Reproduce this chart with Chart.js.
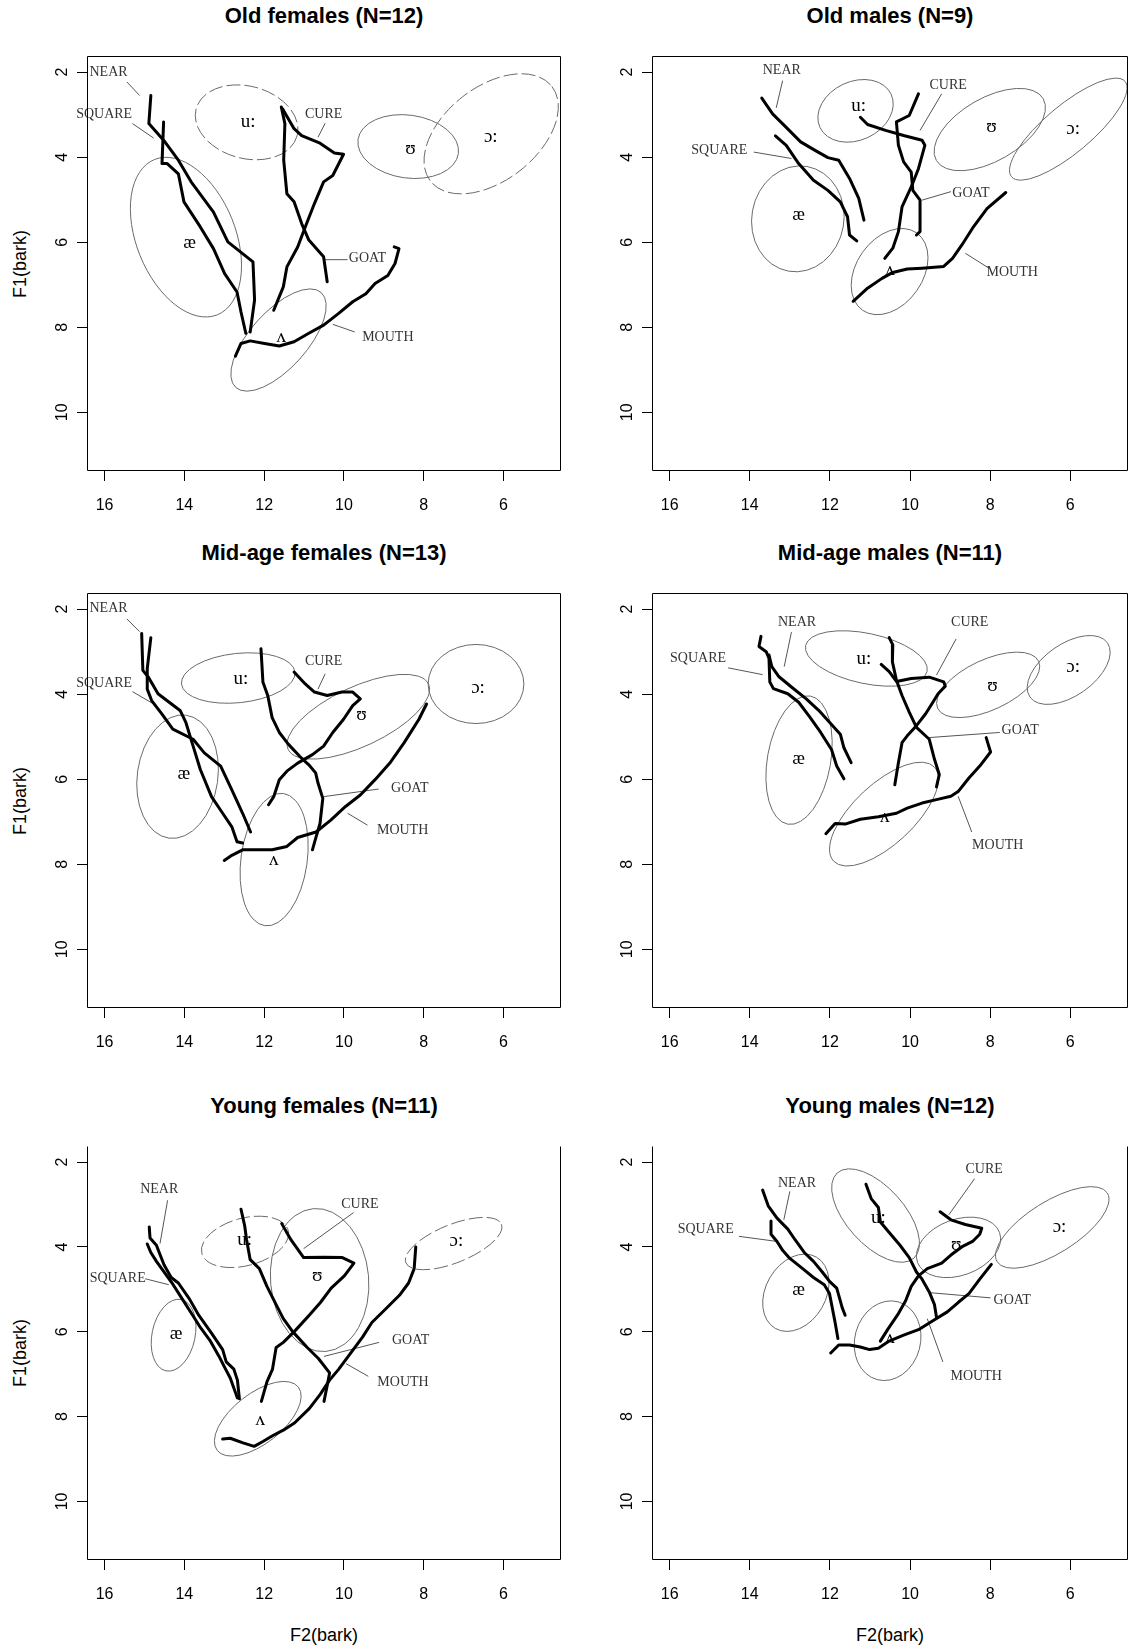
<!DOCTYPE html>
<html>
<head>
<meta charset="utf-8">
<script src="https://cdn.jsdelivr.net/npm/chart.js@4.4.1/dist/chart.umd.min.js"></script>
<style>
  html, body { margin: 0; padding: 0; background: #fff; overflow: hidden; }
  body { width: 1128px; height: 1647px; position: relative; }
  canvas { position: absolute; }
  .title { position: absolute; font: bold 22px "Liberation Sans", Arial, sans-serif; transform: translate(-50%, -50%); white-space: nowrap; }
  .axlab { position: absolute; font: 18px "Liberation Sans", Arial, sans-serif; transform: translate(-50%, -50%); white-space: nowrap; }
  .rot { transform: translate(-50%, -50%) rotate(-90deg); }
</style>
</head>
<body>
<script>
// axes
const xTicks = [16, 14, 12, 10, 8, 6];
const yTicks = [2, 4, 6, 8, 10];
const xRange = [4.56, 16.44];
const yRange = [1.62, 11.38];
const titles = ['Old females (N=12)', 'Old males (N=9)', 'Mid-age females (N=13)',
                'Mid-age males (N=11)', 'Young females (N=11)', 'Young males (N=12)'];

// trajectories are [F2, F1] pairs in bark
// ellipses: [vowel, F2 centre, F1 centre, half-axis along F2, half-axis along F1, tilt deg]
// vowel labels: [text, F2, F1]; lexical set labels: [text, F2, F1, leader from F2, F1, to F2, F1]

// Old females
const ofNear = [[14.84,2.55],[14.89,3.21],[14.52,3.60],[14.15,4.07],[13.83,4.58],[13.27,5.29],[12.91,5.99],[12.28,6.46],[12.24,7.36],[12.35,8.11]];
const ofSquare = [[14.52,3.17],[14.56,4.15],[14.43,4.15],[14.15,4.39],[14.01,5.05],[13.60,5.64],[13.27,6.15],[12.99,6.74],[12.68,7.17],[12.58,7.64],[12.46,8.14]];
const ofCure = [[11.54,2.86],[11.25,3.33],[11.06,3.49],[10.60,3.67],[10.24,3.90],[10.01,3.93],[10.28,4.43],[10.51,4.58],[10.74,5.09],[10.97,5.64],[11.16,6.11],[11.43,6.58],[11.52,7.05],[11.76,7.60]];
const ofGoat = [[11.57,2.82],[11.48,3.21],[11.51,4.07],[11.43,4.86],[11.25,5.05],[11.06,5.56],[10.88,5.95],[10.51,6.34],[10.42,6.93]];
const ofMouth = [[12.72,8.68],[12.58,8.38],[12.35,8.32],[11.99,8.38],[11.62,8.44],[11.25,8.34],[10.88,8.14],[10.51,7.95],[10.14,7.68],[9.78,7.40],[9.45,7.21],[9.22,6.97],[8.90,6.78],[8.72,6.50],[8.62,6.15],[8.74,6.11]];
const ofEllipses = [['æ',13.96,5.88,1.24,1.97,-22],['u:',12.44,3.18,1.31,0.85,15],['ʊ',8.39,3.75,1.27,0.74,8],['ɔ:',6.31,3.45,1.93,1.10,-38],['ʌ',11.64,8.30,1.60,0.67,-48]];
const ofVowels = [['æ',13.87,6.03],['u:',12.40,3.17],['ʊ',8.33,3.80],['ɔ:',6.32,3.53],['ʌ',11.57,8.22]];
const ofSets = [['NEAR',15.90,2.00,15.44,2.23,15.12,2.55],['SQUARE',16.01,3.00,15.30,3.21,14.77,3.55],['CURE',10.51,3.00,10.47,3.20,10.65,3.53],['GOAT',9.41,6.38,10.47,6.41,9.91,6.41],['MOUTH',8.90,8.24,10.28,7.93,9.73,8.11]];

// Old males
const omNear = [[13.70,2.61],[13.43,2.98],[13.14,3.25],[12.73,3.64],[12.37,3.84],[12.05,4.01],[11.78,4.07],[11.51,4.50],[11.28,4.97],[11.15,5.48]];
const omSquare = [[13.36,3.50],[13.09,3.72],[12.78,4.15],[12.41,4.54],[12.05,4.78],[11.74,5.05],[11.56,5.40],[11.51,5.83],[11.33,5.97]];
const omCure = [[11.24,3.06],[11.06,3.23],[10.61,3.37],[10.16,3.49],[9.70,3.60],[9.63,3.72],[9.79,4.27],[9.97,4.70],[10.20,5.17],[10.29,5.75],[10.43,6.14],[10.63,6.38]];
const omGoat = [[9.79,2.51],[10.02,3.02],[10.34,3.17],[10.29,3.72],[10.16,4.11],[9.97,4.35],[9.93,4.78],[9.75,5.01],[9.75,5.75],[9.84,5.83]];
const omMouth = [[11.42,7.39],[11.06,7.08],[10.70,6.85],[10.43,6.71],[10.07,6.63],[9.70,6.61],[9.16,6.57],[8.94,6.38],[8.71,6.07],[8.44,5.67],[8.08,5.21],[7.61,4.83]];
const omEllipses = [['æ',12.80,5.45,1.15,1.25,10],['u:',11.36,2.91,0.98,0.69,-25],['ʊ',8.01,3.35,1.54,0.74,-30],['ɔ:',6.05,3.34,1.85,0.56,-40],['ʌ',10.51,6.69,0.83,1.11,35]];
const omVowels = [['æ',12.78,5.35],['u:',11.28,2.80],['ʊ',7.97,3.29],['ɔ:',5.93,3.33],['ʌ',10.50,6.66]];
const omSets = [['NEAR',13.20,1.96,13.18,2.20,13.34,2.84],['SQUARE',14.76,3.84,13.90,3.88,12.96,4.03],['CURE',9.05,2.31,9.21,2.51,9.75,3.37],['GOAT',8.48,4.84,9.70,5.01,8.98,4.81],['MOUTH',7.45,6.71,8.62,6.26,8.03,6.61]];

// Mid-age females
const mfNear = [[15.07,2.57],[15.04,3.44],[14.90,3.60],[14.66,3.99],[14.38,4.19],[14.10,4.39],[13.96,4.67],[13.78,5.22],[13.60,5.77],[13.32,6.41],[13.04,6.80],[12.81,7.12],[12.68,7.47],[12.54,7.50]];
const mfSquare = [[14.84,2.67],[14.93,3.40],[14.93,3.88],[14.82,4.15],[14.56,4.47],[14.29,4.82],[13.78,5.06],[13.50,5.38],[13.09,5.69],[12.81,6.25],[12.54,6.80],[12.34,7.24]];
const mfCure = [[11.25,3.48],[10.97,3.76],[10.74,3.95],[10.42,4.03],[10.05,3.95],[9.78,3.95],[9.59,4.11],[9.78,4.27],[10.01,4.59],[10.28,4.90],[10.51,5.22],[10.79,5.42],[11.16,5.62],[11.43,5.81],[11.62,6.01],[11.76,6.41],[11.89,6.60]];
const mfGoat = [[12.08,2.93],[12.03,3.72],[11.91,4.03],[11.80,4.55],[11.62,4.90],[11.39,5.18],[11.11,5.46],[10.88,5.66],[10.71,5.85],[10.65,6.09],[10.53,6.45],[10.60,7.04],[10.70,7.36],[10.79,7.66]];
const mfMouth = [[13.00,7.91],[12.81,7.79],[12.54,7.66],[12.17,7.66],[11.80,7.66],[11.43,7.58],[11.16,7.37],[10.70,7.24],[10.33,6.96],[9.96,6.64],[9.59,6.37],[9.22,6.01],[8.85,5.62],[8.49,5.14],[8.12,4.59],[7.93,4.23]];
const mfEllipses = [['æ',14.17,5.94,1.01,1.46,8],['u:',12.65,3.62,1.43,0.58,-6],['ʊ',9.64,4.53,1.94,0.70,-25],['ɔ:',6.69,3.76,1.20,0.93,0],['ʌ',11.75,7.89,0.83,1.57,8]];
const mfVowels = [['æ',14.01,5.87],['u:',12.58,3.65],['ʊ',9.56,4.49],['ɔ:',6.64,3.86],['ʌ',11.76,7.89]];
const mfSets = [['NEAR',15.90,1.99,15.44,2.23,15.12,2.53],['SQUARE',16.01,3.74,15.30,3.94,14.77,4.23],['CURE',10.51,3.23,10.47,3.52,10.65,3.88],['GOAT',8.35,6.21,10.51,6.41,9.13,6.23],['MOUTH',8.53,7.20,9.91,6.80,9.41,7.08]];

// Mid-age males
const mmNear = [[13.52,3.08],[13.45,3.35],[13.27,3.59],[12.96,3.83],[12.59,4.11],[12.28,4.38],[12.01,4.66],[11.74,4.94],[11.65,5.26],[11.47,5.61]];
const mmSquare = [[13.72,2.64],[13.77,2.88],[13.59,3.00],[13.52,3.16],[13.50,3.71],[13.41,3.87],[13.05,3.99],[12.78,4.19],[12.50,4.54],[12.23,4.90],[11.96,5.30],[11.83,5.69],[11.65,5.99]];
const mmCure = [[10.72,3.30],[10.52,3.47],[10.34,3.70],[9.97,3.63],[9.52,3.60],[9.16,3.71],[9.12,3.81],[9.30,3.99],[9.43,4.19],[9.61,4.46],[9.84,4.74],[10.07,4.98],[10.20,5.14],[10.29,5.61],[10.38,6.13]];
const mmGoat = [[10.52,2.67],[10.43,2.84],[10.44,3.24],[10.34,3.67],[10.20,4.03],[10.02,4.42],[9.84,4.78],[9.52,5.06],[9.39,5.53],[9.27,5.89],[9.34,6.18]];
const mmMouth = [[12.10,7.28],[11.87,7.04],[11.60,7.05],[11.24,6.94],[10.79,6.88],[10.34,6.80],[10.07,6.68],[9.70,6.56],[9.34,6.48],[8.98,6.40],[8.80,6.29],[8.53,5.97],[8.26,5.69],[7.99,5.36],[8.10,5.02]];
const mmEllipses = [['æ',12.77,5.55,0.79,1.53,10],['u:',11.09,3.16,1.55,0.59,12],['ʊ',8.05,3.78,1.39,0.59,-25],['ɔ:',6.04,3.43,1.18,0.61,-35],['ʌ',10.65,6.82,1.72,0.71,-43]];
const mmVowels = [['æ',12.78,5.53],['u:',11.15,3.17],['ʊ',7.94,3.81],['ɔ:',5.93,3.35],['ʌ',10.63,6.90]];
const mmSets = [['NEAR',12.82,2.32,12.96,2.54,13.14,3.35],['SQUARE',15.29,3.16,14.54,3.38,13.68,3.54],['CURE',8.51,2.32,8.85,2.70,9.34,3.55],['GOAT',7.25,4.86,9.52,5.02,7.76,4.90],['MOUTH',7.81,7.55,8.80,6.40,8.46,7.24]];

// Young females
const yfNear = [[14.88,3.53],[14.86,3.79],[14.70,3.96],[14.63,4.13],[14.51,4.42],[14.33,4.72],[14.15,4.85],[13.87,5.23],[13.64,5.61],[13.32,6.03],[13.04,6.42],[12.95,6.71],[12.76,6.88],[12.67,7.14],[12.62,7.58]];
const yfSquare = [[14.93,3.93],[14.84,4.13],[14.70,4.34],[14.51,4.59],[14.28,4.89],[14.05,5.23],[13.82,5.57],[13.59,5.91],[13.36,6.20],[13.13,6.58],[12.99,6.84],[12.85,7.09],[12.67,7.56]];
const yfCure = [[11.56,3.45],[11.33,3.83],[11.01,4.25],[10.50,4.24],[10.04,4.25],[9.75,4.38],[9.99,4.68],[10.32,4.97],[10.59,5.31],[10.87,5.61],[11.24,5.99],[11.52,6.25],[11.70,6.37],[11.79,6.88],[11.93,7.18],[12.07,7.64]];
const yfGoat = [[12.58,3.11],[12.49,3.49],[12.44,3.83],[12.35,4.30],[12.12,4.51],[11.93,4.93],[11.70,5.36],[11.52,5.69],[11.29,5.99],[10.92,6.37],[10.64,6.63],[10.36,6.97],[10.41,7.22],[10.50,7.64]];
const yfMouth = [[13.04,8.53],[12.85,8.51],[12.53,8.62],[12.25,8.70],[12.02,8.58],[11.79,8.45],[11.52,8.32],[11.24,8.15],[10.87,7.81],[10.59,7.47],[10.36,7.14],[10.13,6.88],[9.86,6.54],[9.53,6.12],[9.30,5.78],[8.93,5.44],[8.61,5.14],[8.38,4.85],[8.24,4.51],[8.20,4.00]];
const yfEllipses = [['æ',14.27,6.08,0.54,0.86,12],['u:',12.48,3.88,1.12,0.56,-15],['ʊ',10.61,4.78,1.23,1.69,-5],['ɔ:',7.25,3.92,1.29,0.45,-22],['ʌ',12.16,8.05,1.29,0.59,-38]];
const yfVowels = [['æ',14.21,6.05],['u:',12.49,3.83],['ʊ',10.67,4.68],['ɔ:',7.18,3.87],['ʌ',12.10,8.07]];
const yfSets = [['NEAR',14.63,2.64,14.42,2.90,14.61,3.92],['SQUARE',15.67,4.75,14.98,4.75,14.39,4.89],['CURE',9.60,3.00,9.76,3.19,11.01,4.04],['GOAT',8.33,6.19,9.12,6.25,10.50,6.58],['MOUTH',8.52,7.20,9.39,7.05,9.95,6.75]];

// Young males
const ymNear = [[13.68,2.66],[13.54,3.03],[13.32,3.32],[13.05,3.58],[12.87,3.83],[12.64,4.13],[12.41,4.34],[12.19,4.59],[12.01,4.81],[11.83,4.97],[11.74,5.27],[11.69,5.44],[11.62,5.61]];
const ymSquare = [[13.47,3.39],[13.47,3.70],[13.32,3.87],[13.18,4.08],[13.00,4.27],[12.68,4.51],[12.41,4.72],[12.14,4.89],[12.01,5.10],[11.94,5.44],[11.87,5.78],[11.80,6.16]];
const ymCure = [[9.25,3.17],[8.98,3.36],[8.62,3.47],[8.21,3.56],[8.26,3.70],[8.44,3.87],[8.71,4.00],[8.98,4.19],[9.21,4.38],[9.57,4.51],[9.79,4.68],[9.97,4.93],[10.11,5.27],[10.29,5.57],[10.56,5.95],[10.74,6.22]];
const ymGoat = [[11.10,2.52],[10.97,2.86],[10.79,3.07],[10.74,3.41],[10.52,3.66],[10.25,3.96],[10.02,4.25],[9.84,4.59],[9.70,4.76],[9.52,5.06],[9.39,5.36],[9.34,5.65]];
const ymMouth = [[11.98,6.50],[11.78,6.31],[11.51,6.31],[11.24,6.36],[11.01,6.42],[10.79,6.39],[10.52,6.22],[10.16,6.08],[9.79,5.95],[9.43,5.74],[9.07,5.53],[8.80,5.31],[8.53,5.10],[8.26,4.76],[7.97,4.41]];
const ymEllipses = [['æ',12.85,5.08,0.75,0.97,30],['u:',10.86,3.26,1.43,0.68,48],['ʊ',8.79,4.01,1.09,0.66,-20],['ɔ:',6.45,3.54,1.62,0.61,-32],['ʌ',10.56,6.21,0.82,0.95,15]];
const ymVowels = [['æ',12.78,5.02],['u:',10.79,3.32],['ʊ',8.85,3.96],['ɔ:',6.27,3.53],['ʌ',10.50,6.14]];
const ymSets = [['NEAR',12.82,2.50,13.00,2.69,13.15,3.36],['SQUARE',15.10,3.58,14.27,3.75,13.32,3.87],['CURE',8.15,2.16,8.39,2.39,9.03,3.24],['GOAT',7.45,5.25,9.48,5.08,7.99,5.20],['MOUTH',8.35,7.05,9.57,5.69,9.18,6.71]];

const panels = [
  { lines: [ofNear, ofSquare, ofCure, ofGoat, ofMouth], ellipses: ofEllipses, vowels: ofVowels, sets: ofSets },
  { lines: [omNear, omSquare, omCure, omGoat, omMouth], ellipses: omEllipses, vowels: omVowels, sets: omSets },
  { lines: [mfNear, mfSquare, mfCure, mfGoat, mfMouth], ellipses: mfEllipses, vowels: mfVowels, sets: mfSets },
  { lines: [mmNear, mmSquare, mmCure, mmGoat, mmMouth], ellipses: mmEllipses, vowels: mmVowels, sets: mmSets },
  { lines: [yfNear, yfSquare, yfCure, yfGoat, yfMouth], ellipses: yfEllipses, vowels: yfVowels, sets: yfSets },
  { lines: [ymNear, ymSquare, ymCure, ymGoat, ymMouth], ellipses: ymEllipses, vowels: ymVowels, sets: ymSets },
];

// page layout (pixels)
const boxLeft = [87, 652];
const boxWidth = [474, 476];
const boxTop = [56, 593, 1146];
const boxHeight = [415, 415, 414];
const yAxisW = 50, xAxisH = 60;
const dashed = { 0: ['u:', 'ɔ:'], 4: ['u:', 'ɔ:'] };

function addText(cls, text, left, top) {
  const d = document.createElement('div');
  d.className = cls;
  d.textContent = text;
  d.style.left = left + 'px';
  d.style.top = top + 'px';
  document.body.appendChild(d);
}

function rPlot(i) {
  const p = panels[i];
  return {
    id: 'rPlot' + i,
    beforeDatasetsDraw(chart) {
      const { ctx, chartArea: ca, scales: { x, y } } = chart;
      const sx = Math.abs(x.getPixelForValue(1) - x.getPixelForValue(0));
      const sy = Math.abs(y.getPixelForValue(1) - y.getPixelForValue(0));
      ctx.save();
      ctx.beginPath();
      ctx.rect(ca.left, ca.top, ca.right - ca.left, ca.bottom - ca.top);
      ctx.clip();
      ctx.strokeStyle = '#6a6a6a';
      ctx.lineWidth = 1;
      p.ellipses.forEach(e => {
        ctx.setLineDash((dashed[i] || []).includes(e[0]) ? [14, 4] : []);
        ctx.beginPath();
        ctx.ellipse(x.getPixelForValue(e[1]), y.getPixelForValue(e[2]), e[3] * sx, e[4] * sy,
                    e[5] * Math.PI / 180, 0, 2 * Math.PI);
        ctx.stroke();
      });
      ctx.restore();
    },
    afterDatasetsDraw(chart) {
      const { ctx, scales: { x, y } } = chart;
      ctx.save();
      ctx.textAlign = 'center';
      ctx.textBaseline = 'middle';
      ctx.fillStyle = '#000';
      ctx.font = '19px "Liberation Serif", "DejaVu Serif", serif';
      p.vowels.forEach(v => ctx.fillText(v[0], x.getPixelForValue(v[1]), y.getPixelForValue(v[2])));
      ctx.fillStyle = '#333';
      ctx.font = '14px "Liberation Serif", "DejaVu Serif", serif';
      p.sets.forEach(s => ctx.fillText(s[0], x.getPixelForValue(s[1]), y.getPixelForValue(s[2])));
      ctx.restore();
    },
    afterDraw(chart) {
      const { ctx, chartArea: ca, scales: { y } } = chart;
      ctx.save();
      ctx.strokeStyle = '#000';
      ctx.lineWidth = 1;
      ctx.beginPath();
      const l = ca.left + 0.5, r = ca.right - 0.5, t = ca.top + 0.5, b = ca.bottom - 0.5;
      if (i >= 4) {
        // bottom row has no top edge in the original
        ctx.moveTo(l, t); ctx.lineTo(l, b); ctx.lineTo(r, b); ctx.lineTo(r, t);
      } else {
        ctx.rect(l, t, r - l, b - t);
      }
      ctx.stroke();
      ctx.fillStyle = '#000';
      ctx.font = '16px "Liberation Sans", Arial, sans-serif';
      ctx.textAlign = 'center';
      ctx.textBaseline = 'middle';
      yTicks.forEach(v => {
        ctx.save();
        ctx.translate(ca.left - 24, y.getPixelForValue(v));
        ctx.rotate(-Math.PI / 2);
        ctx.fillText(String(v), 0, 0);
        ctx.restore();
      });
      ctx.restore();
    }
  };
}

panels.forEach((p, i) => {
  const col = i % 2, row = Math.floor(i / 2);
  const bl = boxLeft[col], bw = boxWidth[col], bt = boxTop[row], bh = boxHeight[row];
  const canvas = document.createElement('canvas');
  canvas.width = yAxisW + bw + 2;
  canvas.height = 2 + bh + xAxisH;
  canvas.style.left = (bl - yAxisW) + 'px';
  canvas.style.top = (bt - 2) + 'px';
  document.body.appendChild(canvas);

  addText('title', titles[i], bl + bw / 2, bt - 40);
  if (col === 0) addText('axlab rot', 'F1(bark)', 20, bt + bh / 2);
  if (row === 2) addText('axlab', 'F2(bark)', bl + bw / 2, 1635);

  const datasets = p.lines.map(line => ({
    data: line.map(([f2, f1]) => ({ x: f2, y: f1 })),
    showLine: true, pointRadius: 0, borderColor: '#000', borderWidth: 3,
    borderJoinStyle: 'round', borderCapStyle: 'round', tension: 0,
  }));
  p.sets.forEach(s => datasets.push({
    data: [{ x: s[3], y: s[4] }, { x: s[5], y: s[6] }],
    showLine: true, pointRadius: 0, borderColor: '#555', borderWidth: 1,
  }));

  new Chart(canvas, {
    type: 'scatter',
    data: { datasets },
    options: {
      responsive: false,
      animation: false,
      devicePixelRatio: 1,
      events: [],
      layout: { padding: { left: 0, top: 2, right: 2, bottom: 0 } },
      plugins: { legend: { display: false }, tooltip: { enabled: false } },
      scales: {
        x: {
          type: 'linear', min: xRange[0], max: xRange[1], reverse: true,
          afterBuildTicks: s => { s.ticks = xTicks.map(v => ({ value: v })); },
          afterFit: s => { s.height = xAxisH; },
          border: { display: false },
          grid: { drawOnChartArea: false, drawTicks: true, tickLength: 10, color: '#000' },
          ticks: { autoSkip: false, maxRotation: 0, color: '#000', padding: 15,
                   font: { family: '"Liberation Sans", Arial, sans-serif', size: 16 } },
        },
        y: {
          type: 'linear', min: yRange[0], max: yRange[1], reverse: true,
          afterBuildTicks: s => { s.ticks = yTicks.map(v => ({ value: v })); },
          afterFit: s => { s.width = yAxisW; },
          border: { display: false },
          grid: { drawOnChartArea: false, drawTicks: true, tickLength: 10, color: '#000' },
          ticks: { display: false },
        },
      },
    },
    plugins: [rPlot(i)],
  });
});
</script>
</body>
</html>
